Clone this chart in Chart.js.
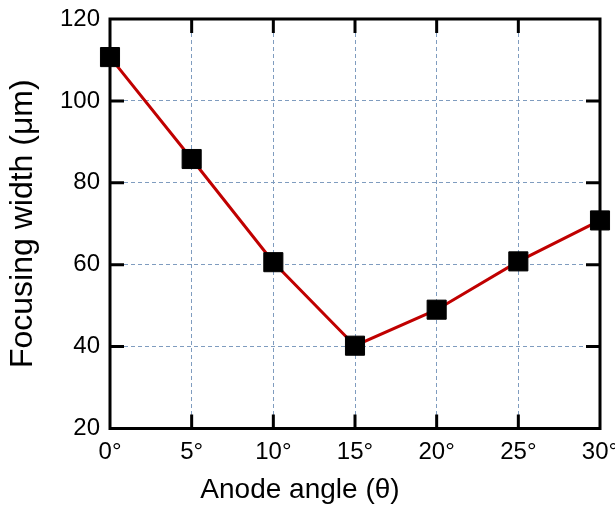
<!DOCTYPE html>
<html>
<head>
<meta charset="utf-8">
<script src="https://cdn.jsdelivr.net/npm/chart.js@4/dist/chart.umd.min.js"></script>
<style>
  html, body { margin: 0; padding: 0; background: #ffffff; }
  #wrap { width: 615px; height: 513px; }
</style>
</head>
<body>
<div id="wrap"><canvas id="c" width="615" height="513"></canvas></div>
<script>
const angles = [0, 5, 10, 15, 20, 25, 30];
const widths = [110.7, 85.8, 60.6, 40.2, 49.0, 60.8, 70.8];
const xTicks = [0, 5, 10, 15, 20, 25, 30];
const yTicks = [20, 40, 60, 80, 100, 120];
const xTitle = 'Anode angle (\u03B8)';
const yTitle = 'Focusing width (\u03BCm)';

const FONT = "'Liberation Sans', Arial, sans-serif";

const framePlugin = {
  id: 'frame',
  afterDatasetsDraw(chart) {
    const {ctx, chartArea: a, scales} = chart;
    ctx.save();
    ctx.strokeStyle = '#000';
    ctx.lineWidth = 3;
    ctx.beginPath();
    ctx.rect(a.left, a.top, a.right - a.left, a.bottom - a.top);
    ctx.stroke();
    const tl = 14;
    ctx.beginPath();
    xTicks.forEach(v => {
      const px = scales.x.getPixelForValue(v);
      if (px <= a.left + 1 || px >= a.right - 1) return;
      ctx.moveTo(px, a.bottom); ctx.lineTo(px, a.bottom - tl);
      ctx.moveTo(px, a.top); ctx.lineTo(px, a.top + tl);
    });
    yTicks.forEach(v => {
      const py = scales.y.getPixelForValue(v);
      if (py <= a.top + 1 || py >= a.bottom - 1) return;
      ctx.moveTo(a.left, py); ctx.lineTo(a.left + tl, py);
      ctx.moveTo(a.right, py); ctx.lineTo(a.right - tl, py);
    });
    ctx.stroke();
    ctx.restore();
  }
};

new Chart(document.getElementById('c'), {
  type: 'line',
  data: {
    datasets: [{
      data: angles.map((a, i) => ({x: a, y: widths[i]})),
      borderColor: '#c00000',
      borderWidth: 3,
      pointStyle: 'rect',
      pointRadius: 13.5,
      pointBackgroundColor: '#000',
      pointBorderColor: '#000',
      pointBorderWidth: 1,
      tension: 0,
      clip: false
    }]
  },
  options: {
    responsive: false,
    animation: false,
    layout: { padding: { left: 0, right: 15, top: 19, bottom: 6 }, autoPadding: false },
    plugins: {
      legend: { display: false },
      tooltip: { enabled: false },
      title: {
        display: true,
        text: xTitle,
        position: 'bottom',
        color: '#000',
        font: { family: FONT, size: 28, weight: 'normal' },
        padding: { top: 0, bottom: 0 }
      }
    },
    scales: {
      x: {
        type: 'linear',
        min: 0, max: 30,
        afterBuildTicks(s) { s.ticks = xTicks.map(v => ({value: v})); },
        afterFit(s) { s.height = 45; s.paddingLeft = 0; s.paddingRight = 0; s.paddingTop = 0; s.paddingBottom = 0; },
        grid: { color: '#7f9cbf', lineWidth: 1, drawTicks: false },
        border: { display: false, dash: [4, 3] },
        ticks: {
          color: '#000',
          padding: 10,
          maxRotation: 0,
          font: { family: FONT, size: 24 },
          callback: v => v + '\u00B0'
        }
      },
      y: {
        min: 20, max: 120,
        afterBuildTicks(s) { s.ticks = yTicks.map(v => ({value: v})); },
        afterFit(s) { s.width = 110; s.paddingLeft = 0; s.paddingRight = 0; s.paddingTop = 0; s.paddingBottom = 0; },
        grid: { color: '#7f9cbf', lineWidth: 1, drawTicks: false },
        border: { display: false, dash: [4, 3] },
        ticks: {
          color: '#000',
          padding: 10,
          font: { family: FONT, size: 24 }
        },
        title: {
          display: true,
          text: yTitle,
          color: '#000',
          font: { family: FONT, size: 32 },
          padding: { top: 4, bottom: 0 }
        }
      }
    }
  },
  plugins: [framePlugin]
});
</script>
</body>
</html>
